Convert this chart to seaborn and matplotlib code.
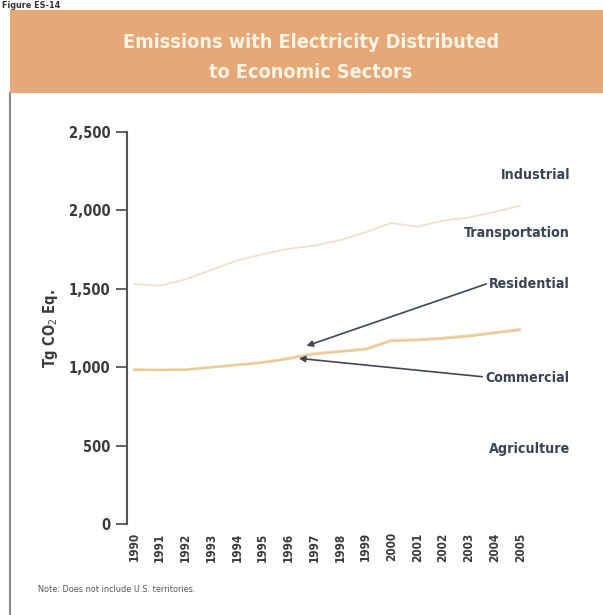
import matplotlib
matplotlib.use("Agg")
import matplotlib.pyplot as plt
import seaborn as sns
import pandas as pd
from matplotlib.patches import Rectangle
from matplotlib.lines import Line2D

years = list(range(1990, 2006))
industrial = [1530, 1520, 1560, 1620, 1680, 1720, 1755, 1775, 1810, 1860, 1920, 1895, 1935, 1955, 1990, 2030]
residential = [988, 986, 988, 1003, 1018, 1034, 1060, 1090, 1104, 1120, 1174, 1179, 1189, 1204, 1224, 1244]
commercial = [982, 980, 982, 997, 1012, 1027, 1052, 1082, 1097, 1112, 1166, 1171, 1181, 1196, 1216, 1236]
sectors = ["Industrial", "Residential", "Commercial"]
label_names = ["Industrial", "Transportation", "Residential", "Commercial", "Agriculture"]
yticks = [0, 500, 1000, 1500, 2000, 2500]

sns.set_style("white")
plt.rcParams["font.family"] = ["DejaVu Sans"]
plt.rcParams["font.stretch"] = "condensed"

df = pd.DataFrame({
    "Year": years * 3,
    "Value": industrial + residential + commercial,
    "Sector": ["Industrial"] * 16 + ["Residential"] * 16 + ["Commercial"] * 16,
})

W, H = 603, 615
fig = plt.figure(figsize=(W / 100, H / 100), dpi=100)

def fx(px):
    return px / W

def fy(py):
    return 1 - py / H

# title band
fig.patches.append(Rectangle((fx(10), fy(93)), fx(593), (93 - 10) / H,
                             transform=fig.transFigure, facecolor="#e6a877",
                             edgecolor="none", zorder=0))
fig.text(fx(311), fy(42), "Emissions with Electricity Distributed", ha="center", va="center",
         color="#fbf3e6", fontsize=14.2, fontweight="bold")
fig.text(fx(311), fy(72), "to Economic Sectors", ha="center", va="center",
         color="#fbf3e6", fontsize=14.2, fontweight="bold")
fig.text(fx(2), fy(0.5), "Figure ES-14", ha="left", va="top", color="#333333",
         fontsize=6.5, fontweight="bold")
# left border
fig.lines.append(Line2D([fx(10), fx(10)], [fy(93), 0], transform=fig.transFigure,
                        color="#8a8a8a", lw=1.5))

ax_left, ax_right = 127, 533
ax_top, ax_bot = 132, 524
ax = fig.add_axes([fx(ax_left), fy(ax_bot), (ax_right - ax_left) / W, (ax_bot - ax_top) / H])
ax.set_facecolor("none")

palette = {"Industrial": "#eee2c9", "Residential": "#eed5ac", "Commercial": "#e9c998"}
sns.lineplot(data=df, x="Year", y="Value", hue="Sector", palette=palette, ax=ax,
             legend=False, linewidth=1.3)

ax.set_xlim(1989.73, 2005.5)
ax.set_ylim(0, 2500)
ax.set_yticks(yticks)
ax.set_yticklabels([f"{v:,}" for v in yticks], fontsize=10.5, fontweight="bold", color="#3a3a3a")
ax.set_xticks(years)
ax.set_xticklabels([str(y) for y in years], rotation=90, fontsize=8.5, fontweight="bold",
                   color="#3a3a3a")
ax.tick_params(axis="x", length=0, pad=6)
ax.tick_params(axis="y", length=8, width=1.3, color="#555555", pad=4, left=True)
for s in ["top", "right", "bottom"]:
    ax.spines[s].set_visible(False)
ax.spines["left"].set_color("#555555")
ax.spines["left"].set_linewidth(1.5)
ax.set_xlabel("")
ax.set_ylabel("Tg CO$_2$ Eq.", fontsize=10.5, fontweight="bold", color="#3a3a3a", labelpad=6)

# right-side labels
label_y = [175, 233, 284, 378, 449]
for name, py in zip(label_names, label_y):
    fig.text(fx(570), fy(py), name, ha="right", va="center", fontsize=10.2,
             fontweight="bold", color="#3a4452")

arrow_kw = dict(arrowstyle="-|>", color="#3d4756", lw=1.2, mutation_scale=9)
ax.annotate("", xy=(1996.6, 1130), xycoords="data",
            xytext=(fx(489), fy(283)), textcoords="figure fraction", arrowprops=arrow_kw)
ax.annotate("", xy=(1996.3, 1058), xycoords="data",
            xytext=(fx(485), fy(377)), textcoords="figure fraction", arrowprops=arrow_kw)

fig.text(fx(38), fy(589), "Note: Does not include U.S. territories.", ha="left", va="center",
         fontsize=6.5, color="#555555")

fig.savefig("out.png", dpi=100, facecolor="white")
